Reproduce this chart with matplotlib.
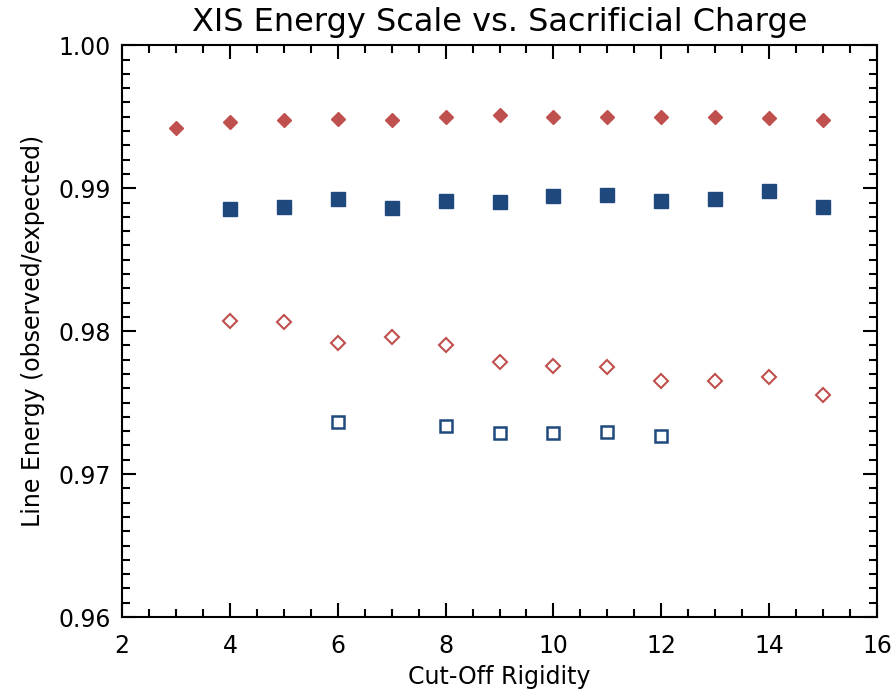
import matplotlib
matplotlib.use('Agg')
import matplotlib.pyplot as plt
from matplotlib.ticker import MultipleLocator

# cut-off rigidity values and line energy ratios
x_red = [3, 4, 5, 6, 7, 8, 9, 10, 11, 12, 13, 14, 15]
red_filled = [0.9942, 0.99463, 0.99475, 0.99485, 0.99478, 0.9950, 0.9951,
              0.9950, 0.9950, 0.9950, 0.9950, 0.9949, 0.9948]

x_blue = [4, 5, 6, 7, 8, 9, 10, 11, 12, 13, 14, 15]
blue_filled = [0.98855, 0.98871, 0.98925, 0.98862, 0.98914, 0.98907,
               0.98949, 0.98956, 0.98914, 0.98928, 0.98984, 0.98871]

x_red_open = [4, 5, 6, 7, 8, 9, 10, 11, 12, 13, 14, 15]
red_open = [0.98070, 0.98063, 0.97916, 0.97958, 0.97902, 0.97782,
            0.97754, 0.97747, 0.97649, 0.97649, 0.97677, 0.97556]

x_blue_open = [6, 8, 9, 10, 11, 12]
blue_open = [0.97365, 0.97335, 0.97286, 0.97286, 0.97293, 0.97265]

red = '#C0504D'
blue = '#1F497D'

plt.rcParams['font.family'] = ['DejaVu Sans']
fig = plt.figure(figsize=(8.96, 6.96), dpi=100)
ax = fig.add_axes([0.1362, 0.1135, 0.8426, 0.8214])

ax.plot(x_red, red_filled, 'D', color=red, markersize=7, linestyle='none')
ax.plot(x_blue, blue_filled, 's', color=blue, markersize=9.5, linestyle='none')
ax.plot(x_red_open, red_open, 'D', markerfacecolor='none', markeredgecolor=red,
        markeredgewidth=1.5, markersize=7, linestyle='none')
ax.plot(x_blue_open, blue_open, 's', markerfacecolor='none', markeredgecolor=blue,
        markeredgewidth=1.8, markersize=8.5, linestyle='none')

ax.set_xlim(2, 16)
ax.set_ylim(0.96, 1.00)
ax.xaxis.set_major_locator(MultipleLocator(2))
ax.xaxis.set_minor_locator(MultipleLocator(0.5))
ax.yaxis.set_major_locator(MultipleLocator(0.01))
ax.yaxis.set_minor_locator(MultipleLocator(0.001))
ax.set_yticklabels(['%.2f' % v for v in ax.get_yticks()])

ax.tick_params(which='both', direction='in', top=True, right=True,
               width=1.5, labelsize=17)
ax.tick_params(axis='x', pad=12)
ax.tick_params(axis='y', pad=8)
ax.tick_params(which='major', length=10)
ax.tick_params(which='minor', length=5.5)
for sp in ax.spines.values():
    sp.set_linewidth(1.5)

ax.set_title('XIS Energy Scale vs. Sacrificial Charge', fontsize=23, pad=10)
ax.set_xlabel('Cut-Off Rigidity', fontsize=17, labelpad=5)
ax.set_ylabel('Line Energy (observed/expected)', fontsize=17, labelpad=10)

fig.savefig('out.png', dpi=100)
